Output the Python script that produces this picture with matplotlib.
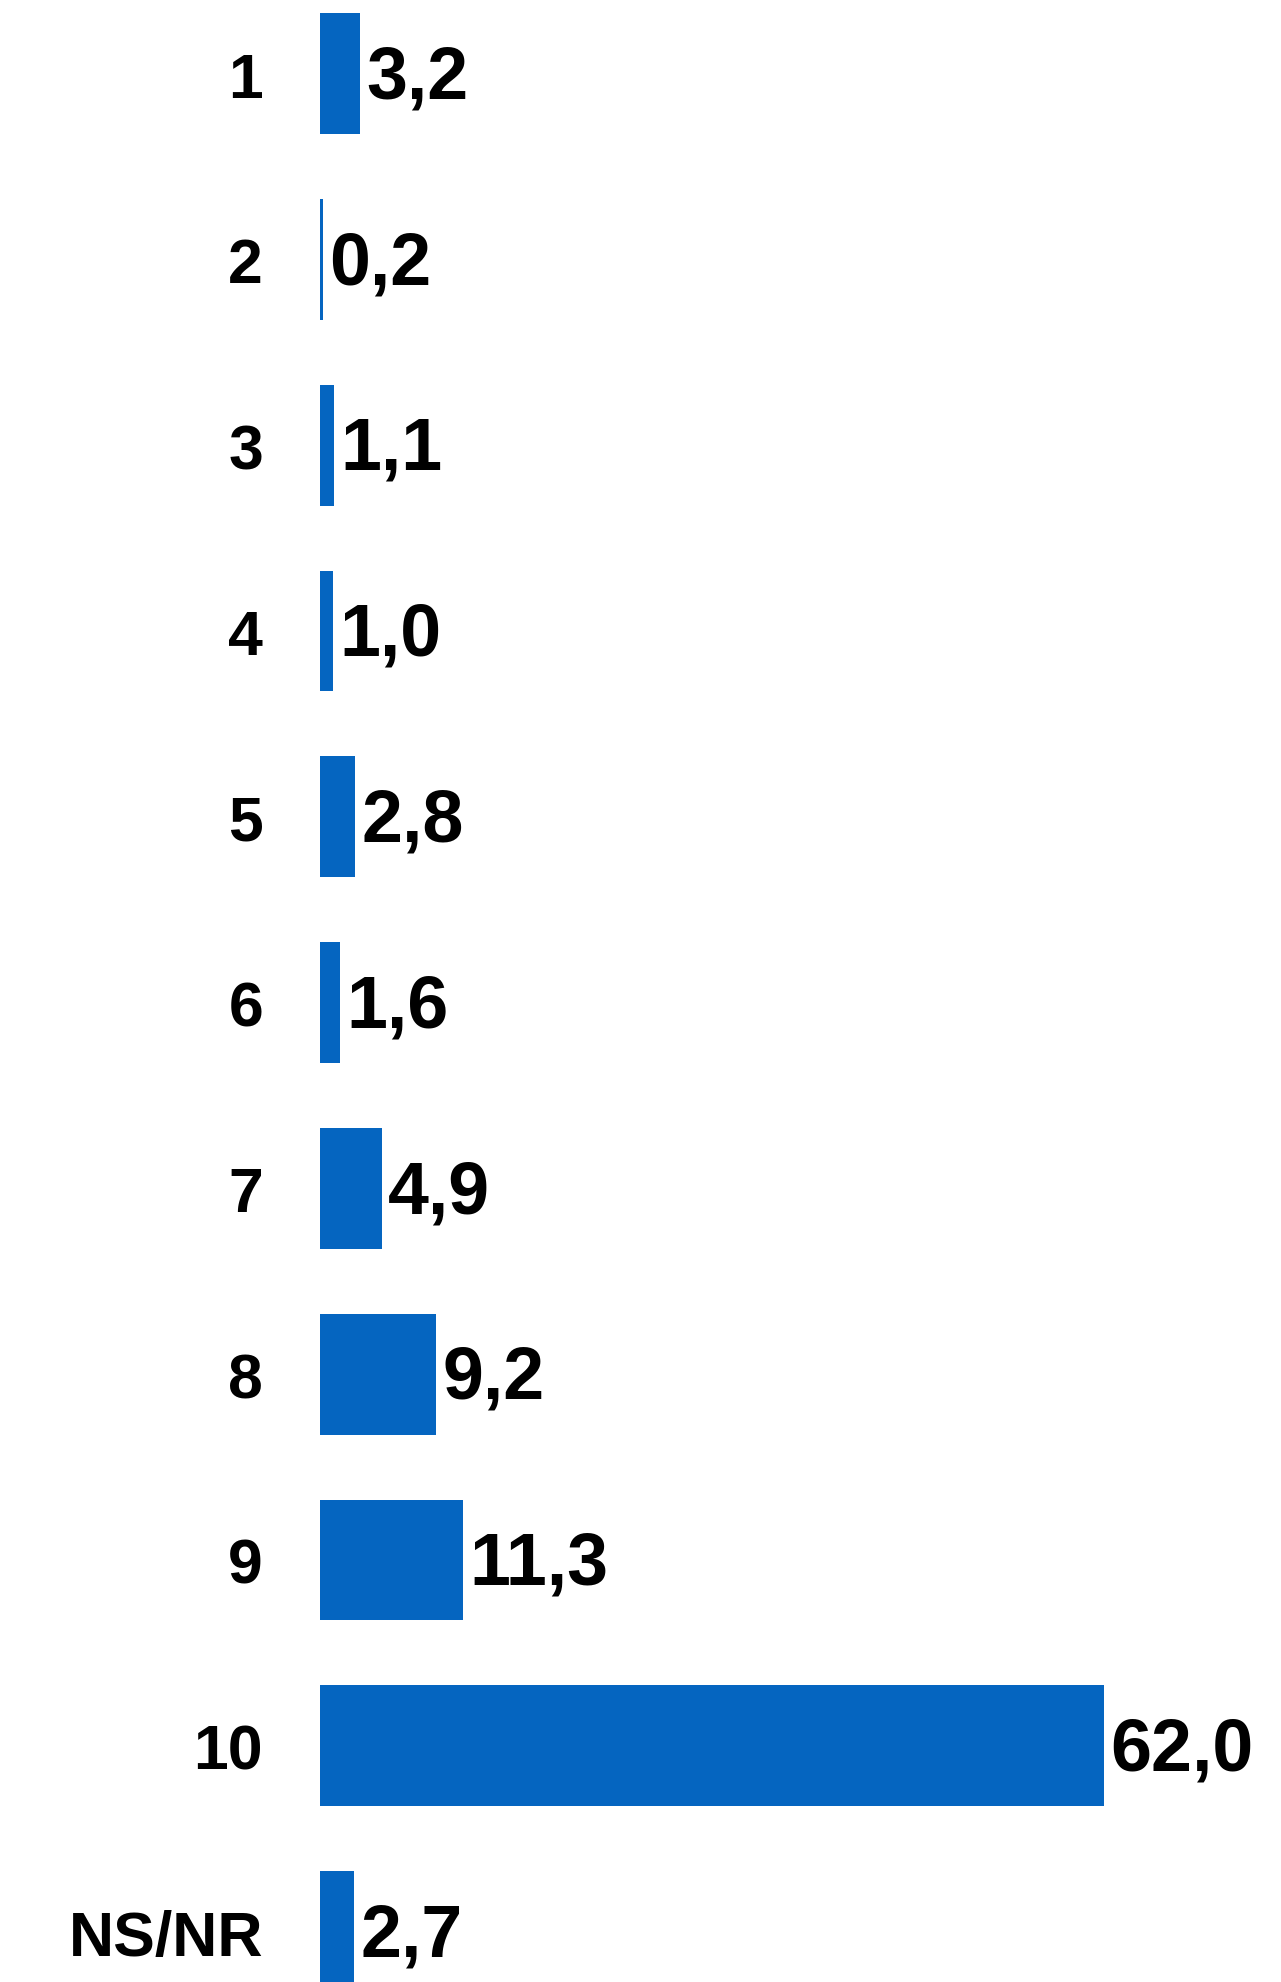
import numpy as np
from matplotlib import pyplot as plt

plt.rcParams['font.family'] = ['Liberation Sans', 'DejaVu Sans']

# Data
categories = ['1', '2', '3', '4', '5', '6', '7', '8', '9', '10', 'NS/NR']
values = [3.2, 0.2, 1.1, 1.0, 2.8, 1.6, 4.9, 9.2, 11.3, 62.0, 2.7]
value_labels = ['3,2', '0,2', '1,1', '1,0', '2,8', '1,6', '4,9', '9,2', '11,3', '62,0', '2,7']

bar_color = '#0565C0'

# Figure
fig = plt.figure(figsize=(12.81, 19.83), dpi=100)
ax = fig.add_axes([320 / 1281, 0, 1 - 320 / 1281, 1])

y = np.arange(len(categories))
ax.barh(y, values, height=0.65, color=bar_color)

# scale: 12.645 px per unit, 185.8 px per row
ax.set_xlim(0, (1281 - 320) / 12.645)
top = -74.6 / 185.8
ax.set_ylim(top + 1983 / 185.8, top)

# value labels
for yi, v, lab in zip(y, values, value_labels):
    ax.annotate(lab, (v, yi), xytext=(4.5, -3), textcoords='offset points',
                ha='left', va='center', fontsize=53, fontweight='bold')

ax.set_yticks(y)
ax.set_yticklabels(categories, fontsize=45, fontweight='bold')
ax.tick_params(axis='y', length=0, pad=41)
ax.set_xticks([])
for s in ax.spines.values():
    s.set_visible(False)

fig.savefig('out.png', dpi=100)
